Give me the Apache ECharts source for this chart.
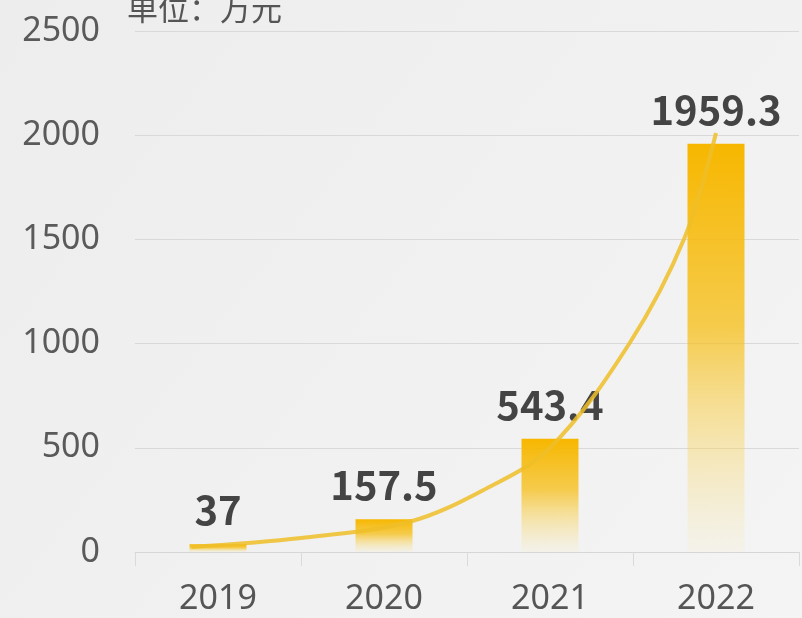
<!DOCTYPE html>
<html>
<head>
<meta charset="utf-8">
<script src="https://cdn.jsdelivr.net/npm/echarts@6/dist/echarts.min.js"></script>
<style>
html,body{margin:0;padding:0;background:#f0f0f0;}
#c{width:802px;height:618px;}
</style>
</head>
<body>
<div id="c"></div>
<script>
var categories = ['2019', '2020', '2021', '2022'];
var values = [37, 157.5, 543.4, 1959.3];
// decorative trend curve (x in category-index units)
var trendX = [-0.16, 0.5, 1.15, 1.6, 2.0, 2.48, 2.81, 3.0];
var trendY = [24, 67, 144, 298, 500, 1003, 1507, 2011];
var yTicks = [0, 500, 1000, 1500, 2000, 2500];
var unitText = '单位：万元';

var trendData = trendX.map(function (x, i) { return [x, trendY[i]]; });

var chart = echarts.init(document.getElementById('c'));
var font = '"Noto Sans CJK SC", "Noto Sans", sans-serif';
var numFont = '"Noto Sans", "Open Sans", sans-serif';
chart.setOption({
  backgroundColor: new echarts.graphic.LinearGradient(0, 0, 1, 1, [
    {offset: 0, color: '#ededed'},
    {offset: 1, color: '#f4f4f4'}
  ]),
  animation: false,
  title: {
    text: unitText,
    left: 122,
    top: -12,
    textStyle: {fontFamily: font, fontSize: 31, fontWeight: 'normal', color: '#555'}
  },
  grid: {left: 135, right: 3, top: 31, bottom: 66},
  xAxis: [{
    type: 'category',
    data: categories,
    boundaryGap: true,
    axisLine: {lineStyle: {color: '#d6d6d6', width: 1}},
    axisTick: {show: true, length: 14, lineStyle: {color: '#dadada'}},
    axisLabel: {fontFamily: numFont, fontSize: 34, color: '#555', margin: 30}
  }, {
    type: 'value',
    min: -0.5,
    max: 3.5,
    show: false
  }],
  yAxis: {
    type: 'value',
    min: yTicks[0],
    max: yTicks[yTicks.length - 1],
    interval: yTicks[1] - yTicks[0],
    axisLine: {show: false},
    axisTick: {show: false},
    axisLabel: {fontFamily: numFont, fontSize: 34, color: '#5a5a5a', margin: 35,
      formatter: function (v) { return String(v); }},
    splitLine: {lineStyle: {color: '#d9d9d9', width: 1}}
  },
  series: [
    {
      type: 'bar',
      data: values,
      barWidth: 57,
      itemStyle: {
        color: new echarts.graphic.LinearGradient(0, 0, 0, 1, [
          {offset: 0, color: '#f7b700'},
          {offset: 0.45, color: 'rgba(247,190,20,0.75)'},
          {offset: 1, color: 'rgba(250,225,130,0.08)'}
        ])
      },
      label: {
        show: true,
        position: 'top',
        distance: 14,
        fontFamily: font,
        fontSize: 40,
        fontWeight: 'bold',
        color: '#444'
      },
      z: 2
    },
    {
      type: 'line',
      xAxisIndex: 1,
      data: trendData,
      smooth: 0.35,
      symbol: 'none',
      lineStyle: {color: 'rgba(238,190,40,0.85)', width: 4},
      z: 3
    }
  ]
});
</script>
</body>
</html>
